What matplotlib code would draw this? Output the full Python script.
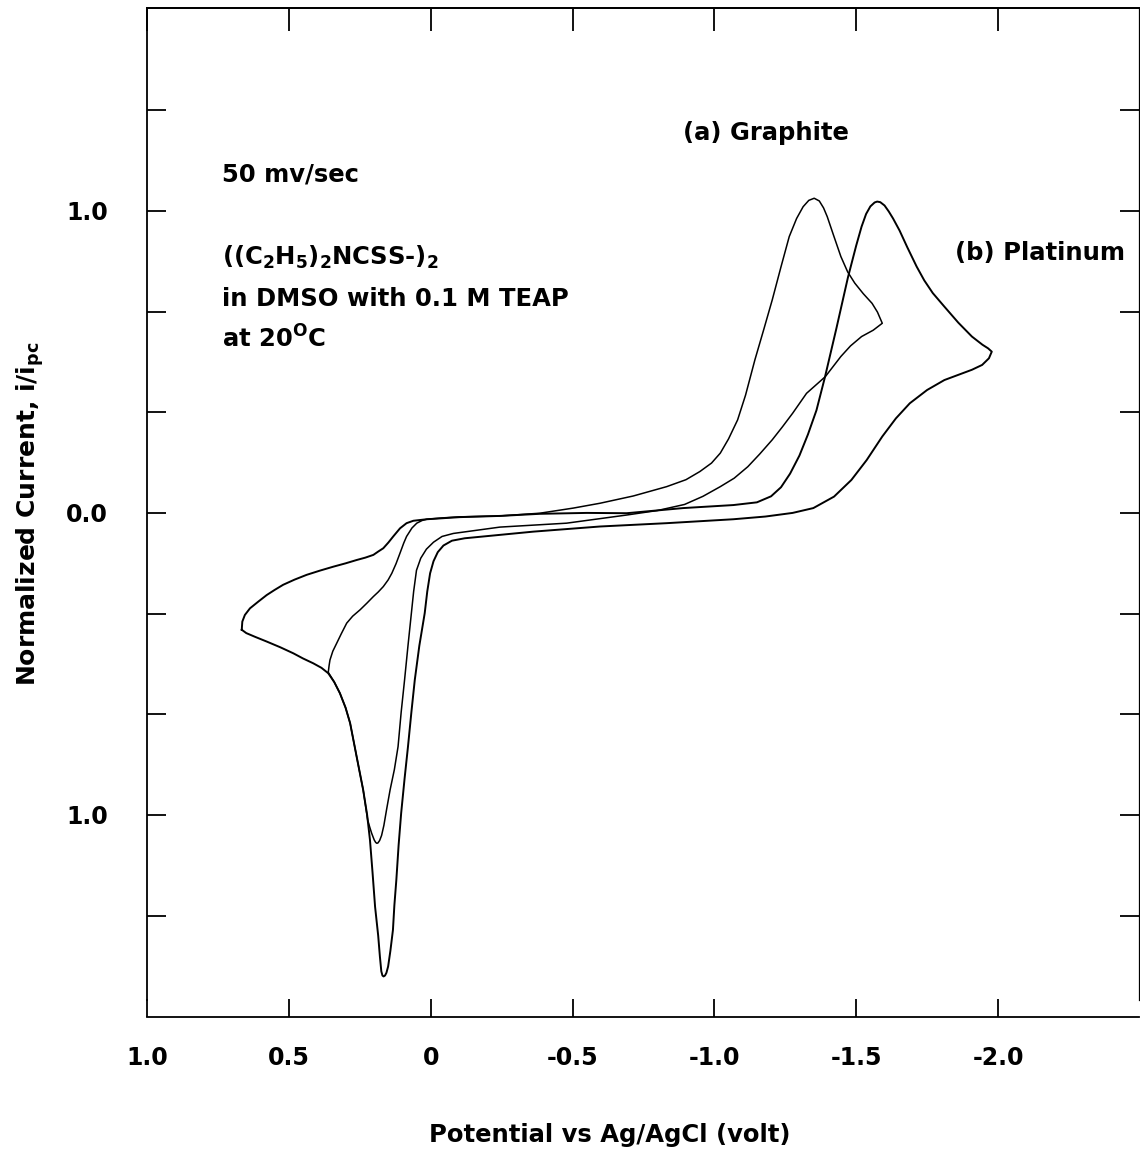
import matplotlib
matplotlib.use('Agg')
import matplotlib.pyplot as plt

plt.rcParams['font.family'] = ['DejaVu Sans']
plt.rcParams['font.weight'] = 'bold'
plt.rcParams['axes.labelweight'] = 'bold'
plt.rcParams['mathtext.default'] = 'regular'

# ---- data (potential in V vs Ag/AgCl, normalized current i/ipc) ----
# (a) Graphite electrode, traced from its anodic switching point
graphite_E = [0.361, 0.358, 0.355, 0.345, 0.331, 0.315, 0.296, 0.275, 0.249, 0.225, 0.202, 0.185,
              0.167, 0.150, 0.137, 0.122, 0.108, 0.095, 0.085, 0.066, 0.049, 0.030, 0.014,
              -0.050, -0.103, -0.244, -0.385, -0.503, -0.597, -0.714, -0.832, -0.900, -0.949,
              -0.990, -1.021, -1.050, -1.082, -1.110, -1.143, -1.175, -1.204, -1.235, -1.264,
              -1.290, -1.313, -1.333, -1.352, -1.370, -1.385, -1.398, -1.420, -1.446, -1.470,
              -1.495, -1.525, -1.556, -1.575, -1.592,
              -1.560, -1.519, -1.480, -1.446, -1.391, -1.325, -1.276, -1.240, -1.204, -1.160,
              -1.118, -1.070, -1.021, -0.960, -0.895, -0.800, -0.691, -0.479, -0.244, -0.127,
              -0.080, -0.040, -0.010, 0.015, 0.035, 0.050, 0.060, 0.068, 0.080, 0.092, 0.104,
              0.115, 0.128, 0.143, 0.155, 0.165, 0.173, 0.180, 0.186, 0.190, 0.194, 0.199,
              0.208, 0.215, 0.222, 0.238, 0.250, 0.261, 0.284, 0.300, 0.320, 0.340, 0.361]
graphite_I = [-0.528, -0.505, -0.487, -0.458, -0.431, -0.400, -0.365, -0.342, -0.321, -0.299, -0.277, -0.262,
              -0.244, -0.222, -0.200, -0.168, -0.133, -0.100, -0.078, -0.050, -0.034, -0.025, -0.021,
              -0.016, -0.013, -0.010, -0.001, 0.016, 0.032, 0.056, 0.087, 0.110, 0.137,
              0.165, 0.198, 0.245, 0.308, 0.390, 0.507, 0.610, 0.705, 0.815, 0.915,
              0.975, 1.014, 1.035, 1.042, 1.033, 1.010, 0.981, 0.920, 0.849, 0.798,
              0.761, 0.726, 0.694, 0.665, 0.628,
              0.605, 0.584, 0.553, 0.518, 0.451, 0.396, 0.330, 0.285, 0.242, 0.195,
              0.153, 0.115, 0.087, 0.055, 0.028, 0.008, -0.007, -0.034, -0.047, -0.062,
              -0.068, -0.078, -0.097, -0.120, -0.150, -0.190, -0.260, -0.332, -0.440, -0.553, -0.660,
              -0.774, -0.850, -0.917, -0.980, -1.035, -1.068, -1.085, -1.093, -1.094, -1.091, -1.083,
              -1.061, -1.040, -1.017, -0.917, -0.860, -0.807, -0.696, -0.645, -0.597, -0.560, -0.528]

# (b) Platinum electrode, traced from its anodic switching point
platinum_E = [0.666, 0.664, 0.655, 0.637, 0.608, 0.578, 0.550, 0.520, 0.480, 0.437, 0.390, 0.343,
              0.300, 0.261, 0.230, 0.202, 0.185, 0.167, 0.149, 0.132, 0.108, 0.085, 0.061, 0.014,
              -0.103, -0.244, -0.385, -0.550, -0.691, -0.890, -1.067, -1.150, -1.200, -1.235,
              -1.267, -1.300, -1.330, -1.360, -1.390, -1.430, -1.471, -1.500, -1.519, -1.535,
              -1.550, -1.565, -1.574, -1.585, -1.600, -1.615, -1.630, -1.653, -1.680, -1.713,
              -1.740, -1.770, -1.811, -1.860, -1.908, -1.945, -1.965, -1.978,
              -1.968, -1.944, -1.908, -1.859, -1.811, -1.750, -1.689, -1.640, -1.592, -1.537,
              -1.483, -1.422, -1.349, -1.276, -1.180, -1.067, -0.832, -0.597, -0.362, -0.185,
              -0.120, -0.075, -0.045, -0.025, -0.010, 0.002, 0.012, 0.021, 0.040, 0.056, 0.068,
              0.080, 0.092, 0.104, 0.113, 0.121, 0.128, 0.133, 0.142, 0.150, 0.156, 0.161,
              0.166, 0.170, 0.174, 0.179, 0.185, 0.196, 0.205, 0.214, 0.224, 0.238, 0.250,
              0.261, 0.284, 0.300, 0.320, 0.340, 0.361, 0.385, 0.414, 0.450, 0.484, 0.530,
              0.578, 0.620, 0.650, 0.666]
platinum_I = [-0.387, -0.360, -0.338, -0.316, -0.294, -0.272, -0.255, -0.238, -0.221, -0.205, -0.191, -0.178,
              -0.167, -0.156, -0.148, -0.139, -0.128, -0.117, -0.098, -0.078, -0.051, -0.034, -0.026, -0.021,
              -0.014, -0.010, -0.003, 0.000, -0.001, 0.016, 0.026, 0.035, 0.055, 0.085,
              0.130, 0.190, 0.260, 0.340, 0.450, 0.610, 0.780, 0.885, 0.948, 0.990,
              1.015, 1.028, 1.031, 1.029, 1.018, 0.998, 0.975, 0.935, 0.880, 0.816,
              0.770, 0.728, 0.683, 0.630, 0.584, 0.557, 0.545, 0.534,
              0.512, 0.490, 0.474, 0.457, 0.440, 0.407, 0.363, 0.313, 0.253, 0.175,
              0.109, 0.054, 0.016, 0.000, -0.012, -0.021, -0.034, -0.045, -0.062, -0.078,
              -0.084, -0.092, -0.108, -0.130, -0.160, -0.200, -0.260, -0.332, -0.440, -0.553, -0.660,
              -0.774, -0.880, -0.994, -1.100, -1.215, -1.300, -1.381, -1.450, -1.502, -1.523, -1.532,
              -1.535, -1.532, -1.518, -1.469, -1.400, -1.304, -1.190, -1.083, -1.000, -0.917, -0.860,
              -0.807, -0.696, -0.645, -0.597, -0.560, -0.531, -0.513, -0.498, -0.482, -0.465, -0.445,
              -0.426, -0.410, -0.398, -0.387]

xtick_values = [1.0, 0.5, 0.0, -0.5, -1.0, -1.5, -2.0]
xtick_labels = ['1.0', '0.5', '0', '-0.5', '-1.0', '-1.5', '-2.0']
ytick_values = [4/3, 1.0, 2/3, 1/3, 0.0, -1/3, -2/3, -1.0, -4/3]
ytick_labels = ['', '1.0', '', '', '0.0', '', '', '1.0', '']

W, H = 1140, 1160
fig = plt.figure(figsize=(W/100, H/100), dpi=100)
ax = fig.add_axes([147/W, 160/H, 992/W, 992/H])

ax.plot(graphite_E, graphite_I, color='black', lw=1.1, solid_joinstyle='round')
ax.plot(platinum_E, platinum_I, color='black', lw=1.4, solid_joinstyle='round')

ax.set_xlim(1.0, -2.497)
ax.set_ylim(-1.613, 1.672)

for s in ax.spines.values():
    s.set_linewidth(1.3)
ax.spines['bottom'].set_position(('outward', 12.2))
ax.spines['right'].set_linewidth(0.9)

ax.set_xticks(xtick_values)
ax.set_xticklabels(xtick_labels)
ax.set_yticks(ytick_values)
ax.set_yticklabels(ytick_labels)
ax.tick_params(axis='x', direction='in', length=13, width=1.3, pad=21, labelsize=17)
ax.tick_params(axis='y', direction='in', length=14, width=1.3, pad=28, labelsize=17,
               right=True)

top = ax.secondary_xaxis('top')
top.set_xticks(xtick_values)
top.tick_params(direction='in', length=16.5, width=1.3, labeltop=False)
top.spines['top'].set_linewidth(1.3)

ax.set_xlabel('Potential vs Ag/AgCl (volt)', fontsize=17.5, va='center')
ax.xaxis.set_label_coords(0.4667, -0.1361)
ax.set_ylabel('Normalized Current, i/i$_{pc}$', fontsize=18, va='center')
ax.yaxis.set_label_coords(-0.118, 0.49)

fs = 17.5
kw = dict(transform=ax.transAxes, fontsize=fs, ha='left', va='baseline')
ax.text(0.0756, 0.8249, '50 mv/sec', **kw)
ax.text(0.0756, 0.7409, '((C$_2$H$_5$)$_2$NCSS-)$_2$', **kw)
ax.text(0.0756, 0.6996, 'in DMSO with 0.1 M TEAP', **kw)
ax.text(0.0756, 0.6573, 'at 20$^O$C', **kw)
ax.text(0.5403, 0.8669, '(a) Graphite', **kw)
ax.text(0.8142, 0.7460, '(b) Platinum', **kw)

fig.savefig('out.png', dpi=100)
